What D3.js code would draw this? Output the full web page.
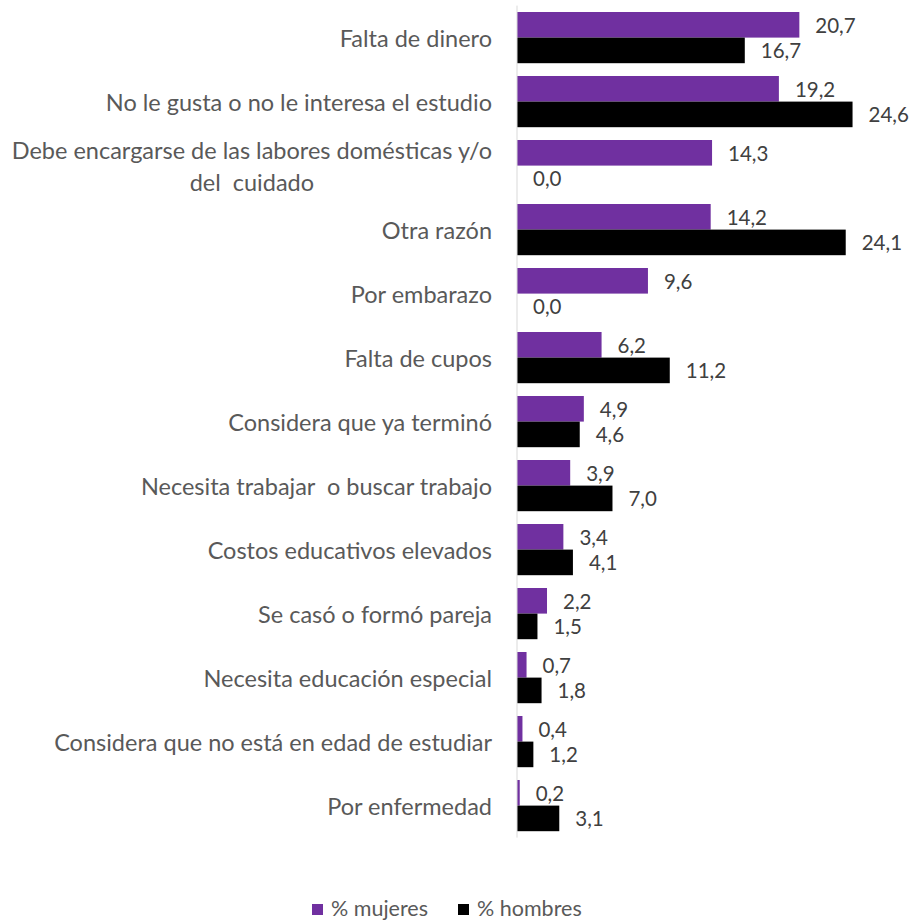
<!DOCTYPE html>
<html>
<head>
<meta charset="utf-8">
<script src="https://cdn.jsdelivr.net/npm/d3@7"></script>
<style>
  body { margin: 0; background: #fff; }
  text { font-family: Lato, sans-serif; white-space: pre; }
</style>
</head>
<body>
<svg id="chart" width="915" height="921"></svg>
<script>
const categories = [
    ["Falta de dinero"],
    ["No le gusta o no le interesa el estudio"],
    ["Debe encargarse de las labores domésticas y/o", "del  cuidado"],
    ["Otra razón"],
    ["Por embarazo"],
    ["Falta de cupos"],
    ["Considera que ya terminó"],
    ["Necesita trabajar  o buscar trabajo"],
    ["Costos educativos elevados"],
    ["Se casó o formó pareja"],
    ["Necesita educación especial"],
    ["Considera que no está en edad de estudiar"],
    ["Por enfermedad"]
];
const mujeres = [20.7, 19.2, 14.3, 14.2, 9.6, 6.2, 4.9, 3.9, 3.4, 2.2, 0.7, 0.4, 0.2];
const hombres = [16.7, 24.6, 0.0, 24.1, 0.0, 11.2, 4.6, 7.0, 4.1, 1.5, 1.8, 1.2, 3.1];
const seriesNames = ["% mujeres", "% hombres"];
const seriesColors = ["#7030a0", "#000000"];

const svg = d3.select("#chart");
const keys = categories.map((c, i) => i);

const x = d3.scaleLinear().domain([0, 25]).range([517, 858]);
const y = d3.scaleBand().domain(keys).range([5.6, 837.6]).paddingInner(0.2).paddingOuter(0.1);
const ySub = d3.scaleBand().domain([0, 1]).range([0, y.bandwidth()]);

const fmt = v => v.toFixed(1).replace(".", ",");

// barras
const groups = svg.append("g").selectAll("g")
    .data(keys)
    .join("g")
    .attr("transform", d => `translate(0,${y(d)})`);

[mujeres, hombres].forEach((vals, s) => {
    groups.append("rect")
        .attr("x", x(0))
        .attr("y", ySub(s))
        .attr("width", d => x(vals[d]) - x(0))
        .attr("height", ySub.bandwidth())
        .attr("fill", seriesColors[s]);
    groups.append("text")
        .text(d => fmt(vals[d]))
        .attr("x", d => x(vals[d]) + 16)
        .attr("y", ySub(s) + ySub.bandwidth() / 2)
        .attr("dominant-baseline", "central")
        .attr("fill", "#404040")
        .style("font-size", "20.5px");
});

// eje vertical
svg.append("line")
    .attr("x1", x(0)).attr("x2", x(0))
    .attr("y1", y.range()[0]).attr("y2", y.range()[1])
    .attr("stroke", "#d9d9d9")
    .attr("stroke-width", 1);

// etiquetas de categoría
const labelRight = 492;
svg.append("g").selectAll("text")
    .data(keys)
    .join("text")
    .attr("fill", "#595959")
    .style("font-size", "23.5px")
    .each(function (d) {
        const lines = categories[d];
        const cy = y(d) + y.bandwidth() / 2;
        const lh = 32;
        const t = d3.select(this);
        const spans = t.selectAll("tspan")
            .data(lines)
            .join("tspan")
            .attr("y", (l, i) => cy + (i - (lines.length - 1) / 2) * lh)
            .attr("dominant-baseline", "central")
            .text(l => l);
        if (lines.length > 1) {
            const w = d3.max(spans.nodes(), n => n.getComputedTextLength());
            spans.attr("x", labelRight - w / 2).attr("text-anchor", "middle");
        } else {
            spans.attr("x", labelRight).attr("text-anchor", "end");
        }
    });

// leyenda
const legend = svg.append("g").attr("transform", "translate(0,916)");
const legendX = [312, 458];
seriesNames.forEach((name, i) => {
    legend.append("rect")
        .attr("x", legendX[i]).attr("y", -12)
        .attr("width", 11).attr("height", 11)
        .attr("fill", seriesColors[i]);
    legend.append("text")
        .text(name)
        .attr("x", legendX[i] + 19)
        .attr("y", 0)
        .attr("fill", "#595959")
        .style("font-size", "21.5px");
});
</script>
</body>
</html>
